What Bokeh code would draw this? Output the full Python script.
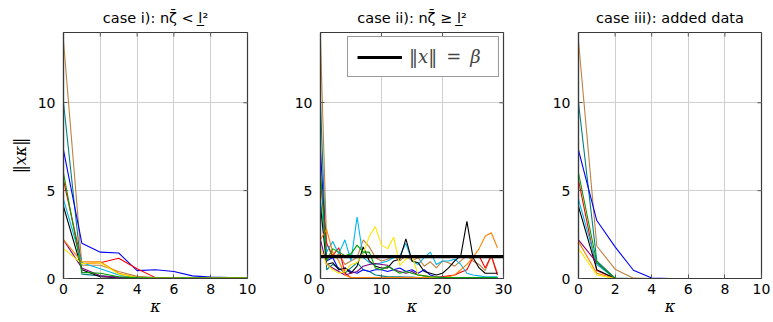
import math
from bokeh.plotting import figure
from bokeh.layouts import row
from bokeh.models import FixedTicker, Range1d, Legend, LegendItem
from bokeh.embed import file_html
from bokeh.resources import INLINE

# ---------------- data ----------------
kappa_short = list(range(11))
kappa_long = list(range(30))

series_colors = ["#bf8040", "#008080", "#0000ff", "#ff0000", "#00b4f0",
                 "#000000", "#800080", "#ff8000", "#ffe600", "#00a000"]

# case i)  (order: brown, teal, blue, red, cyan, black, purple, orange, yellow, green)
case1_brown = [13.5, 0.75, 0.75, 0.4, 0.12, 0.05, 0.03, 0.02, 0.02, 0.02, 0.02]
case1_teal = [10.0, 0.25, 0.15, 0.08, 0.05, 0.03, 0.02, 0.02, 0.02, 0.02, 0.02]
case1_blue = [7.3, 2.0, 1.5, 1.45, 0.45, 0.5, 0.4, 0.15, 0.08, 0.05, 0.05]
case1_red = [5.6, 0.85, 0.9, 1.15, 0.55, 0.05, 0.03, 0.02, 0.02, 0.02, 0.02]
case1_cyan = [4.5, 0.9, 0.55, 0.2, 0.05, 0.03, 0.02, 0.02, 0.02, 0.02, 0.02]
case1_black = [4.1, 0.5, 0.1, 0.05, 0.03, 0.02, 0.02, 0.02, 0.02, 0.02, 0.02]
case1_purple = [2.2, 0.6, 0.15, 0.05, 0.03, 0.02, 0.02, 0.02, 0.02, 0.02, 0.02]
case1_orange = [2.2, 0.95, 0.95, 0.3, 0.05, 0.03, 0.02, 0.02, 0.02, 0.02, 0.02]
case1_yellow = [1.7, 0.85, 0.9, 0.25, 0.05, 0.03, 0.02, 0.02, 0.02, 0.02, 0.02]
case1_green = [6.0, 0.35, 0.3, 0.1, 0.05, 0.03, 0.02, 0.02, 0.02, 0.02, 0.02]

# case ii)
case2_brown = [13.5, 2.0, 1.2, 1.4, 0.8, 1.0, 1.2, 2.2, 1.8, 1.2, 1.0, 1.1, 1.3, 1.0, 1.3,
               1.0, 1.2, 0.7, 0.95, 0.6, 1.0, 0.9, 0.7, 1.0, 1.3, 1.0, 0.8, 0.45, 1.3, 0.3]
case2_teal = [10.0, 0.5, 0.8, 0.6, 0.3, 0.6, 0.9, 0.5, 0.4, 0.2, 0.15, 0.1, 0.1, 0.1, 0.08,
              0.08, 0.06, 0.05, 0.05, 0.05, 0.05, 0.05, 0.05, 0.05, 0.05, 0.05, 0.05, 0.05, 0.05, 0.05]
case2_blue = [7.3, 1.0, 1.2, 0.5, 0.6, 0.4, 0.3, 0.5, 0.4, 0.5, 0.5, 0.4, 0.5, 0.6, 0.4,
              0.5, 0.3, 0.5, 0.2, 0.1, 0.08, 0.06, 0.05, 0.05, 0.05, 0.05, 0.05, 0.05, 0.05, 0.05]
case2_red = [5.6, 2.0, 1.3, 1.75, 0.3, 0.05, 0.05, 0.05, 0.05, 0.05, 0.05, 0.05, 0.05, 0.05, 0.05,
             0.05, 0.05, 0.05, 0.05, 0.05, 0.1, 0.15, 0.2, 0.35, 0.5, 1.2, 1.3, 0.6, 1.3, 0.2]
case2_cyan = [4.5, 1.5, 2.1, 1.4, 2.2, 1.0, 3.5, 1.2, 0.9, 0.8, 0.9, 1.0, 1.2, 1.3, 2.0,
              1.0, 0.8, 1.2, 1.5, 0.8, 1.0, 1.0, 1.1, 0.8, 0.3, 0.2, 0.15, 0.1, 0.1, 0.1]
case2_black = [4.1, 0.8, 0.9, 0.5, 0.6, 0.3, 0.7, 1.8, 1.0, 0.7, 0.6, 0.6, 1.0, 1.1, 2.25,
               1.0, 0.9, 0.4, 0.3, 0.2, 0.3, 0.6, 1.0, 1.3, 3.25, 1.2, 0.6, 0.3, 0.3, 0.3]
case2_purple = [2.2, 0.8, 0.6, 0.4, 0.2, 0.3, 0.4, 0.7, 0.8, 0.85, 0.8, 0.75, 0.5, 0.4, 0.3,
                0.4, 0.2, 0.15, 0.1, 0.08, 0.06, 0.05, 0.05, 0.05, 0.05, 0.05, 0.05, 0.05, 0.05, 0.05]
case2_orange = [2.2, 2.8, 1.5, 1.0, 0.2, 0.05, 0.05, 0.05, 0.05, 0.05, 0.05, 0.05, 0.05, 0.05, 0.05,
                0.05, 0.05, 0.05, 0.05, 0.05, 0.05, 0.1, 0.2, 0.5, 0.8, 1.2, 1.7, 2.4, 2.6, 1.75]
case2_yellow = [1.7, 0.8, 0.5, 0.3, 0.4, 0.8, 0.9, 1.4, 2.4, 2.95, 1.9, 1.7, 2.35, 0.75, 1.1,
                1.3, 0.2, 0.15, 0.1, 0.08, 0.06, 0.05, 0.05, 0.05, 0.05, 0.05, 0.05, 0.05, 0.05, 0.05]
case2_green = [6.0, 1.0, 1.7, 1.5, 1.3, 1.4, 1.9, 1.5, 1.5, 0.6, 0.5, 0.7, 0.5, 0.3, 0.4,
               0.3, 0.2, 0.15, 0.1, 0.08, 0.05, 0.05, 0.05, 0.05, 0.05, 0.05, 0.05, 0.05, 0.05, 0.05]

beta = 1.25
beta_x = [0, 30]

# case iii)
case3_brown = [13.5, 1.85, 0.53, 0.02, 0.0, 0.0, 0.0, 0.0, 0.0, 0.0, 0.0]
case3_teal = [10.0, 1.0, 0.02, 0.0, 0.0, 0.0, 0.0, 0.0, 0.0, 0.0, 0.0]
case3_blue = [7.3, 3.3, 1.8, 0.47, 0.03, 0.0, 0.0, 0.0, 0.0, 0.0, 0.0]
case3_red = [5.6, 0.45, 0.0, 0.0, 0.0, 0.0, 0.0, 0.0, 0.0, 0.0, 0.0]
case3_cyan = [4.5, 0.8, 0.0, 0.0, 0.0, 0.0, 0.0, 0.0, 0.0, 0.0, 0.0]
case3_black = [4.1, 0.5, 0.0, 0.0, 0.0, 0.0, 0.0, 0.0, 0.0, 0.0, 0.0]
case3_purple = [2.2, 0.9, 0.0, 0.0, 0.0, 0.0, 0.0, 0.0, 0.0, 0.0, 0.0]
case3_orange = [2.1, 0.3, 0.0, 0.0, 0.0, 0.0, 0.0, 0.0, 0.0, 0.0, 0.0]
case3_yellow = [1.7, 0.2, 0.0, 0.0, 0.0, 0.0, 0.0, 0.0, 0.0, 0.0, 0.0]
case3_green = [6.0, 0.9, 0.0, 0.0, 0.0, 0.0, 0.0, 0.0, 0.0, 0.0, 0.0]

case1_series = [case1_brown, case1_teal, case1_blue, case1_red, case1_cyan,
                case1_black, case1_purple, case1_orange, case1_yellow, case1_green]
case2_series = [case2_brown, case2_teal, case2_blue, case2_red, case2_cyan,
                case2_black, case2_purple, case2_orange, case2_yellow, case2_green]
case3_series = [case3_brown, case3_teal, case3_blue, case3_red, case3_cyan,
                case3_black, case3_purple, case3_orange, case3_yellow, case3_green]

y_max = 14
y_ticks = [0, 5, 10]
x_ticks_short = [0, 2, 4, 6, 8, 10]
x_ticks_long = [0, 10, 20, 30]

titles = ["case i): nζ̄ < l̲²", "case ii): nζ̄ ≥ l̲²", "case iii): added data"]
legend_label = "‖x‖\u2002=\u2002β"
y_label = "‖xκ‖"
x_label = "κ"

FONT = "DejaVu Sans"
MATH = "DejaVu Serif"
FRAME = "#3a3a3a"
TICK = "#555555"


def make_panel(title, width, left, right, xmax, xticks, xs, series, ylabel=None):
    p = figure(width=width, height=322, output_backend="svg", toolbar_location=None,
               x_range=Range1d(0, xmax), y_range=Range1d(0, y_max),
               min_border_left=left, min_border_right=right,
               min_border_top=32, min_border_bottom=44)
    p.title.text = title
    p.title.text_font = FONT
    p.title.text_font_size = "14.5px"
    p.title.text_font_style = "normal"
    p.title.align = "center"
    p.title.text_color = "black"
    p.title.text_line_height = 0.8
    p.title.standoff = 13

    p.xaxis.ticker = FixedTicker(ticks=xticks)
    p.yaxis.ticker = FixedTicker(ticks=y_ticks)
    for ax in (p.xaxis[0], p.yaxis[0]):
        ax.major_tick_in = 4
        ax.major_tick_out = 0
        ax.minor_tick_line_color = None
        ax.major_tick_line_color = TICK
        ax.axis_line_color = FRAME
        ax.axis_line_width = 1.2
        ax.major_label_text_font = FONT
        ax.major_label_text_font_size = "14px"
        ax.major_label_text_color = "black"
        ax.axis_label_text_font = MATH
        ax.axis_label_text_font_size = "16px"
        ax.axis_label_text_color = "black"
    p.xaxis.major_label_standoff = 5
    p.yaxis.major_label_standoff = 8
    p.xaxis.axis_label = x_label
    p.xaxis.axis_label_text_font_style = "italic"
    p.xaxis.axis_label_standoff = 0
    if ylabel:
        p.yaxis.axis_label = ylabel
        p.yaxis.axis_label_text_font_style = "italic"
        p.yaxis.axis_label_standoff = 5

    p.grid.grid_line_color = "#cfcfcf"
    p.grid.grid_line_width = 1
    p.outline_line_color = FRAME
    p.outline_line_width = 1.2
    p.background_fill_color = "white"
    p.border_fill_color = "white"

    # inward tick marks on the top and right frame edges (half of each dash is clipped)
    p.scatter(xticks, [y_max] * len(xticks), marker="dash", angle=math.pi / 2,
              size=8, line_color=TICK, line_width=1)
    p.scatter([xmax] * len(y_ticks), y_ticks, marker="dash", size=8,
              line_color=TICK, line_width=1)

    for vals, col in zip(series, series_colors):
        p.line(xs, vals, line_color=col, line_width=1.1)
    return p


p1 = make_panel(titles[0], 260, 63, 13, 10, x_ticks_short, kappa_short, case1_series,
                ylabel=y_label)
p2 = make_panel(titles[1], 258, 60, 15, 30, x_ticks_long, kappa_long, case2_series)
p3 = make_panel(titles[2], 255, 60, 12, 10, x_ticks_short, kappa_short, case3_series)

beta_r = p2.line(beta_x, [beta, beta], line_color="black", line_width=3.2)
legend = Legend(items=[LegendItem(label=legend_label, renderers=[beta_r])],
                location="top_right", margin=4, padding=9, spacing=0,
                glyph_width=45, glyph_height=20,
                label_text_font=MATH, label_text_font_style="italic",
                label_text_font_size="18px", label_standoff=7, label_width=80,
                border_line_color="#333333", border_line_width=1,
                background_fill_alpha=1.0)
p2.add_layout(legend)

layout = row(p1, p2, p3)
open("out.html", "w").write(file_html(layout, INLINE))
